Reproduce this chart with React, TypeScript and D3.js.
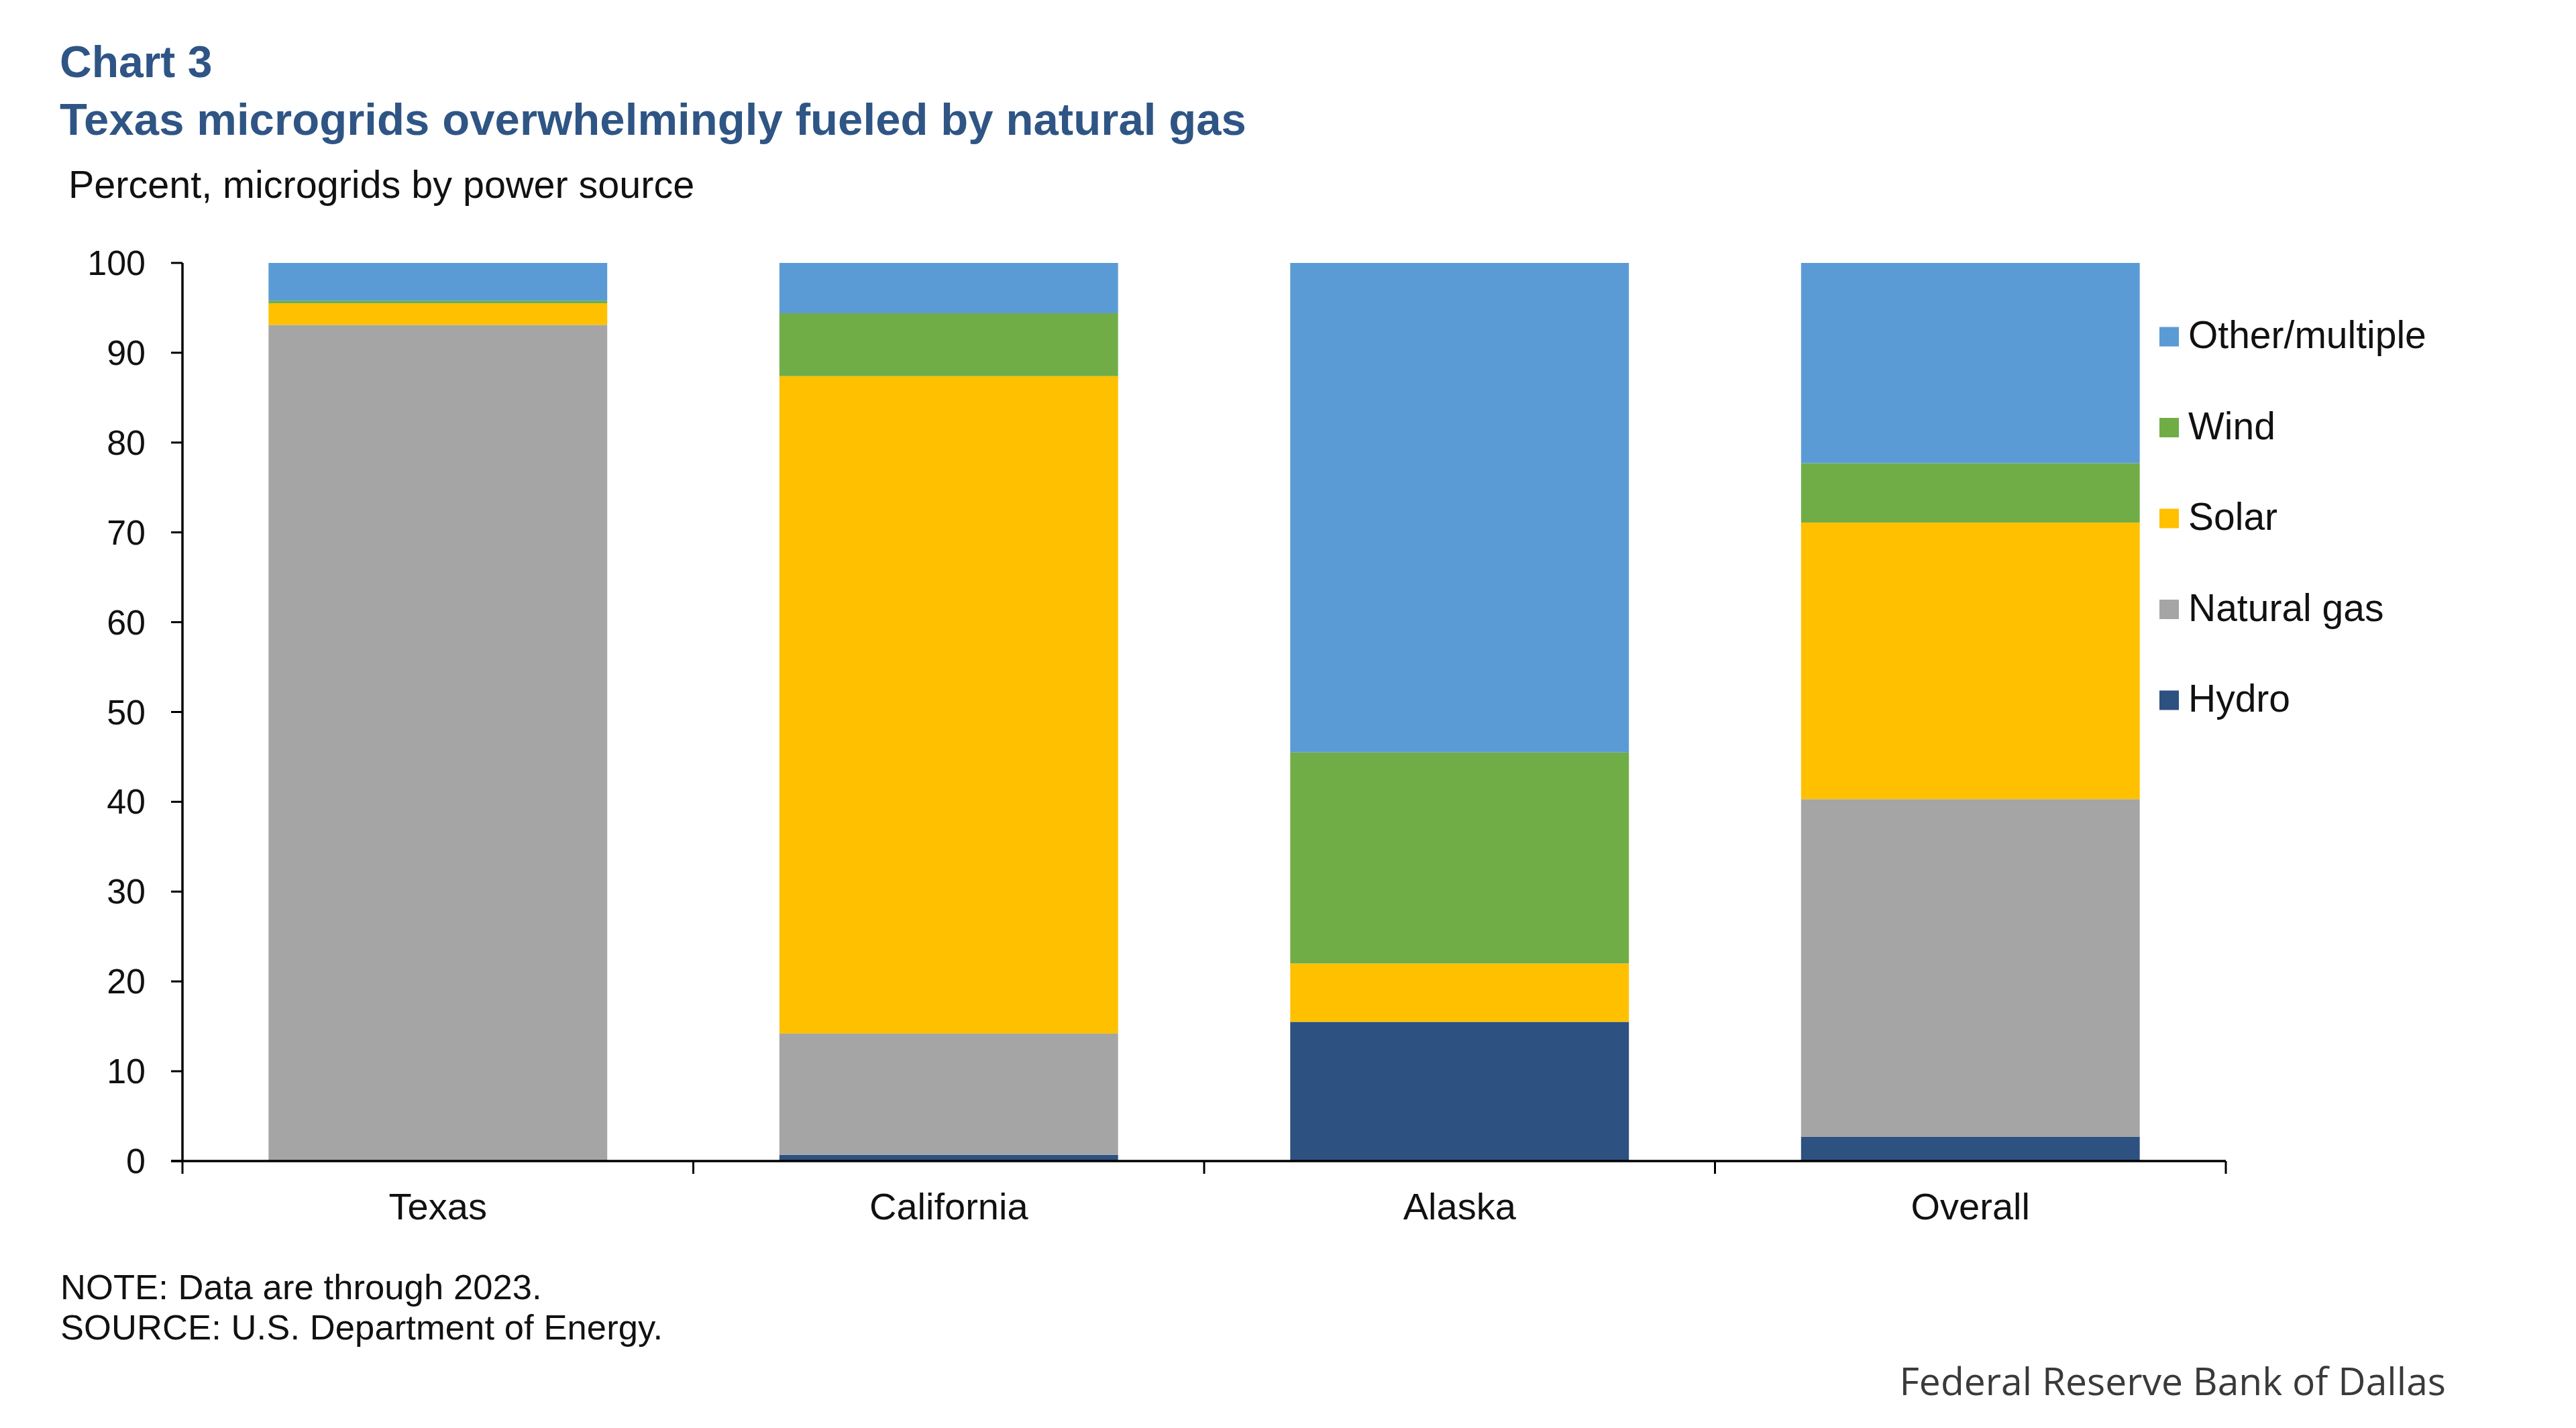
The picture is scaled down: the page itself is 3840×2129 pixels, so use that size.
import React from "react";
import * as d3 from "d3";

const categories = ["Texas", "California", "Alaska", "Overall"];
const seriesNames = ["Hydro", "Natural gas", "Solar", "Wind", "Other/multiple"];
const hydro = [0, 0.7, 15.5, 2.7];
const naturalGas = [93.1, 13.5, 0, 37.6];
const solar = [2.4, 73.2, 6.5, 30.8];
const wind = [0.3, 7.0, 23.5, 6.6];
const other = [4.2, 5.6, 54.5, 22.3];
const yTicks = [0, 10, 20, 30, 40, 50, 60, 70, 80, 90, 100];
const colors = ["#2D5180", "#A5A5A5", "#FFC000", "#70AD47", "#5B9BD5"];
const legendOrder = ["Other/multiple", "Wind", "Solar", "Natural gas", "Hydro"];

const W = 3840;
const H = 2129;
const FONT = "'Liberation Sans', Arial, sans-serif";

export default function App() {
  const left = 272;
  const right = 3318;
  const top = 392;
  const bottom = 1731;

  const rows = categories.map((c, i) => ({
    cat: c,
    "Hydro": hydro[i],
    "Natural gas": naturalGas[i],
    "Solar": solar[i],
    "Wind": wind[i],
    "Other/multiple": other[i],
  }));

  const x = d3
    .scaleBand<string>()
    .domain(categories)
    .range([left, right])
    .paddingInner(0.337)
    .paddingOuter(0.1685);
  const y = d3.scaleLinear().domain([0, 100]).range([bottom, top]);
  const color = d3.scaleOrdinal<string, string>().domain(seriesNames).range(colors);
  const stack = d3.stack<any>().keys(seriesNames);
  const layers = stack(rows);

  const step = x.step();
  const boundaries = d3.range(categories.length + 1).map((i) => left + i * step);

  const legendY = d3.scaleLinear().domain([0, 1]).range([502, 637.5]);

  return (
    <svg
      width={W}
      height={H}
      style={{ position: "absolute", left: 0, top: 0, display: "block", background: "#fff" }}
    >
      <rect x={0} y={0} width={W} height={H} fill="#fff" />
      <text x={89} y={115} fontFamily={FONT} fontWeight="bold" fontSize={66} fill="#2F5585">
        Chart 3
      </text>
      <text x={89} y={201} fontFamily={FONT} fontWeight="bold" fontSize={67} letterSpacing={0.1} fill="#2F5585">
        Texas microgrids overwhelmingly fueled by natural gas
      </text>
      <text x={102} y={295} fontFamily={FONT} fontSize={57.5} fill="#111">
        Percent, microgrids by power source
      </text>

      {layers.map((layer) => (
        <g key={layer.key} fill={color(layer.key)}>
          {layer.map((d: any, i: number) => {
            const h = y(d[0]) - y(d[1]);
            if (h <= 0) return null;
            return (
              <rect
                key={i}
                x={x(d.data.cat)}
                y={y(d[1])}
                width={x.bandwidth()}
                height={h}
              />
            );
          })}
        </g>
      ))}

      {/* Y axis */}
      <line x1={left} x2={left} y1={top} y2={bottom} stroke="#000" strokeWidth={3.5} />
      {yTicks.map((t) => (
        <g key={t}>
          <line x1={left - 17} x2={left} y1={y(t)} y2={y(t)} stroke="#000" strokeWidth={3} />
          <text
            x={217}
            y={y(t)}
            textAnchor="end"
            dominantBaseline="central"
            fontFamily={FONT}
            fontSize={52}
            fill="#111"
          >
            {t}
          </text>
        </g>
      ))}

      {/* X axis */}
      <line x1={left - 17} x2={right} y1={bottom} y2={bottom} stroke="#000" strokeWidth={3.5} />
      {boundaries.map((b, i) => (
        <line key={i} x1={b} x2={b} y1={bottom} y2={bottom + 19} stroke="#000" strokeWidth={3} />
      ))}
      {categories.map((c) => (
        <text
          key={c}
          x={(x(c) as number) + x.bandwidth() / 2}
          y={1818}
          textAnchor="middle"
          fontFamily={FONT}
          fontSize={56}
          fill="#111"
        >
          {c}
        </text>
      ))}

      {/* Legend */}
      {legendOrder.map((name, i) => (
        <g key={name}>
          <rect x={3219} y={legendY(i) - 14.5} width={29} height={29} fill={color(name)} />
          <text
            x={3262}
            y={legendY(i) + 17}
            fontFamily={FONT}
            fontSize={57}
            fill="#111"
          >
            {name}
          </text>
        </g>
      ))}

      {/* Notes */}
      <text x={90} y={1937} fontFamily={FONT} fontSize={52.5} letterSpacing={0.1} fill="#111">
        NOTE: Data are through 2023.
      </text>
      <text x={90} y={1997} fontFamily={FONT} fontSize={52.5} letterSpacing={0.1} fill="#111">
        SOURCE: U.S. Department of Energy.
      </text>
      <text
        x={3646}
        y={2080}
        textAnchor="end"
        fontFamily="'Open Sans', sans-serif"
        fontSize={57}
        fill="#3a3a3a"
      >
        Federal Reserve Bank of Dallas
      </text>
    </svg>
  );
}
